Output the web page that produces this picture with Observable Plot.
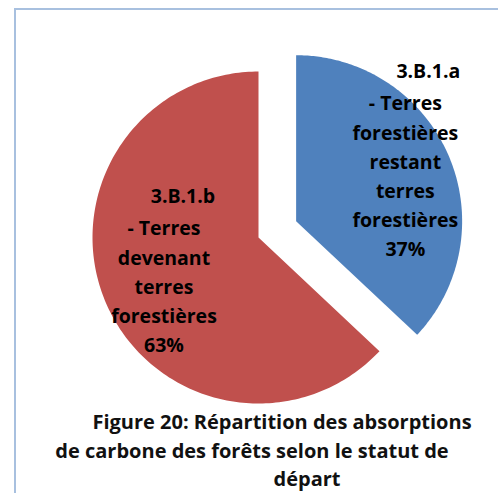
<!DOCTYPE html>
<html><head><meta charset="utf-8">
<script src="https://cdn.jsdelivr.net/npm/d3@7"></script>
<script src="https://cdn.jsdelivr.net/npm/@observablehq/plot@0.6"></script>
<style>
html,body{margin:0;padding:0;background:#fff;overflow:hidden;width:498px;height:493px;}
#frame{position:absolute;left:13.5px;top:7.5px;width:600px;height:600px;border-left:2.5px solid #A8C0DF;border-top:2.5px solid #A8C0DF;box-sizing:border-box;z-index:2;}
#chart{position:relative;z-index:1;}
.cap{font-family:"Open Sans",sans-serif;font-weight:700;font-size:20px;line-height:28.5px;color:#111;position:relative;z-index:3;margin-top:4px;}
.cap div{text-align:center;white-space:nowrap;}
</style></head><body>
<div id="frame"></div>
<div id="chart"></div>
<div class="cap" id="cap"></div>
<script>
// data
const codes = ["3.B.1.a", "3.B.1.b"];
const names = ["- Terres\nforestières\nrestant\nterres\nforestières", "- Terres\ndevenant\nterres\nforestières"];
const values = [37, 63];
const colors = ["#4F81BD", "#C0504D"];
const captionLines = ["Figure 20: Répartition des absorptions", "de carbone des forêts selon le statut de", "départ"];

// layout
const W = 498, H = 404, cx = 258, cy = 237, r = 166;
const explode = [41, 0];
const labelR = [119, 103];
const labelDy = [0, 6];
const codeDx = [23, 19];
const fs = 19.5, lineSp = 29.2;

const arcs = d3.pie().sort(null).value(d => d)(values);
const polys = [];
const labels = [];
arcs.forEach((a, i) => {
  const mid = (a.startAngle + a.endAngle) / 2;
  const ox = cx + explode[i] * Math.sin(mid), oy = cy - explode[i] * Math.cos(mid);
  polys.push({code: codes[i], x: ox, y: oy});
  const N = 200;
  for (let k = 0; k <= N; k++) {
    const t = a.startAngle + (a.endAngle - a.startAngle) * k / N;
    polys.push({code: codes[i], x: ox + r * Math.sin(t), y: oy - r * Math.cos(t)});
  }
  polys.push({code: codes[i], x: ox, y: oy});
  const pct = Math.round(100 * a.value / d3.sum(values)) + "%";
  const rest = names[i] + "\n" + pct;
  const n = rest.split("\n").length;
  const lx = ox + labelR[i] * Math.sin(mid);
  const ly = oy - labelR[i] * Math.cos(mid) + labelDy[i];
  labels.push({code: codes[i], rest, x: lx, y: ly, cxp: lx + codeDx[i], cyp: ly - ((n - 1) / 2 + 1) * lineSp});
});

const font = {fontFamily: "Open Sans", fontWeight: "bold", fontSize: fs, fill: "#000"};
const chart = Plot.plot({
  width: W, height: H, margin: 0,
  style: {background: "transparent", overflow: "visible"},
  x: {domain: [0, W], range: [0, W], axis: null},
  y: {domain: [0, H], range: [0, H], axis: null},
  color: {domain: codes, range: colors},
  marks: [
    Plot.line(polys, {x: "x", y: "y", z: "code", fill: "code", stroke: null}),
    Plot.text(labels, {x: "x", y: "y", text: "rest", lineHeight: lineSp / fs, ...font}),
    Plot.text(labels, {x: "cxp", y: "cyp", text: "code", ...font})
  ]
});
document.getElementById("chart").appendChild(chart);

const capShift = [66, 6, 116];
const cap = document.getElementById("cap");
captionLines.forEach((t, i) => {
  const d = document.createElement("div");
  d.textContent = t;
  d.style.marginLeft = capShift[i] + "px";
  cap.appendChild(d);
});
</script>
</body></html>
